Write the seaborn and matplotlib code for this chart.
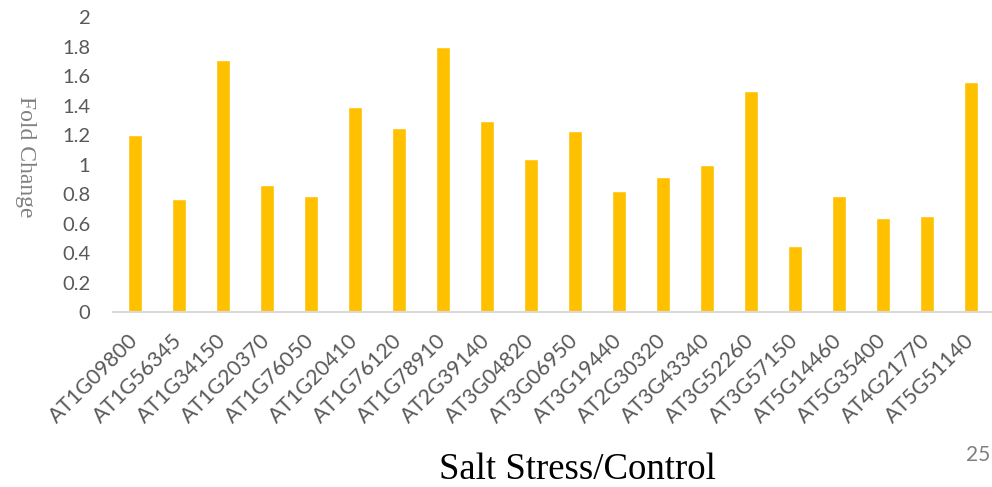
import matplotlib
matplotlib.use("Agg")
import matplotlib.pyplot as plt
import seaborn as sns
import pandas as pd

genes = ["AT1G09800", "AT1G56345", "AT1G34150", "AT1G20370", "AT1G76050",
         "AT1G20410", "AT1G76120", "AT1G78910", "AT2G39140", "AT3G04820",
         "AT3G06950", "AT3G19440", "AT2G30320", "AT3G43340", "AT3G52260",
         "AT3G57150", "AT5G14460", "AT5G35400", "AT4G21770", "AT5G51140"]
fold_change = [1.20, 0.77, 1.71, 0.86, 0.79,
               1.39, 1.25, 1.80, 1.30, 1.04,
               1.23, 0.82, 0.92, 1.00, 1.50,
               0.45, 0.79, 0.64, 0.65, 1.56]
y_ticks = [0, 0.2, 0.4, 0.6, 0.8, 1, 1.2, 1.4, 1.6, 1.8, 2]
y_tick_labels = ["0", "0.2", "0.4", "0.6", "0.8", "1", "1.2", "1.4", "1.6", "1.8", "2"]

df = pd.DataFrame({"gene": genes, "fold": fold_change})

sns.set_theme(style="white")
plt.rcParams["font.family"] = ["Lato", "DejaVu Sans"]

W, H = 992, 487
fig = plt.figure(figsize=(W / 100, H / 100), dpi=100)
ax = fig.add_axes([112.7 / W, (H - 312.3) / H, 880.0 / W, 295.0 / H])

sns.barplot(data=df, x="gene", y="fold", color="#FFC000", saturation=1,
            width=0.318, ax=ax)

ax.set_ylim(0, 2)
ax.set_xlim(-0.5, len(genes) - 0.5)
ax.set_yticks(y_ticks)
ax.set_yticklabels(y_tick_labels)
ax.tick_params(axis="y", length=0, pad=16, labelsize=14.5, labelcolor="#595959")
ax.tick_params(axis="x", length=0, pad=18, labelsize=15.3, labelcolor="#595959")
for lbl in ax.get_xticklabels():
    lbl.set_rotation(45)
    lbl.set_ha("right")
    lbl.set_va("center")
    lbl.set_rotation_mode("anchor")
ax.set_xlabel("")
ax.set_ylabel("")

for side in ["left", "right", "top"]:
    ax.spines[side].set_visible(False)
ax.spines["bottom"].set_color("#D9D9D9")
ax.spines["bottom"].set_linewidth(1.5)

fig.text(25 / W, 1 - 157 / H, "Fold Change", rotation=270, ha="center",
         va="center", fontsize=17, color="#808080",
         family=["Liberation Serif", "DejaVu Serif"])
fig.text(577 / W, 1 - 470 / H, "Salt Stress/Control", ha="center", va="center",
         fontsize=26.5, color="black", family=["Liberation Serif", "DejaVu Serif"])
fig.text(990 / W, 1 - 455 / H, "25", ha="right", va="center", fontsize=15,
         color="#7F7F7F")

fig.savefig("out.png", dpi=100)
